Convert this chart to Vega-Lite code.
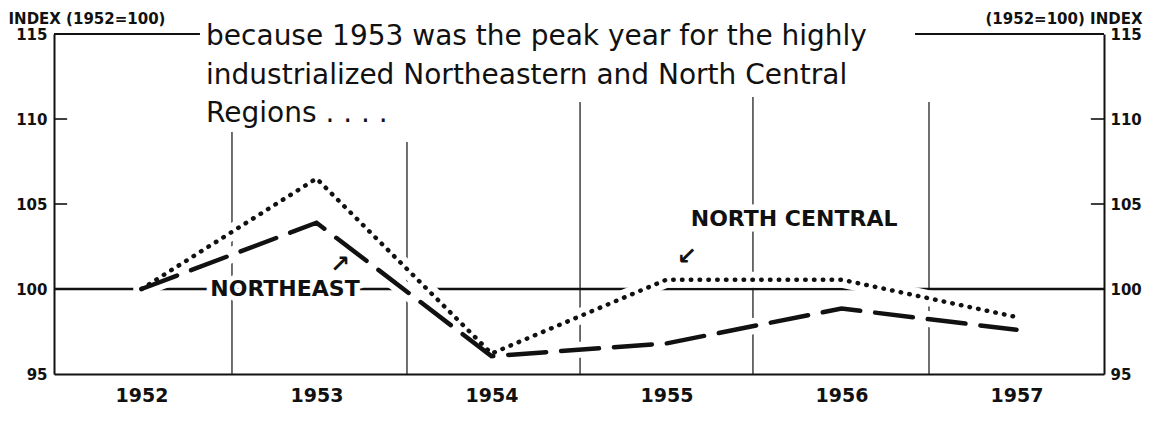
{
  "$schema": "https://vega.github.io/schema/vega-lite/v6.json",
  "width": 1050,
  "height": 340,
  "autosize": {"type": "none"},
  "padding": {"left": 54, "top": 34, "right": 53, "bottom": 51},
  "background": "white",
  "config": {
    "view": {"stroke": null},
    "axis": {
      "labelFont": "DejaVu Sans",
      "labelFontWeight": "bold",
      "labelColor": "#111",
      "domainColor": "#111",
      "tickColor": "#111",
      "titleFont": "DejaVu Sans",
      "titleFontWeight": "bold",
      "titleColor": "#111",
      "grid": false
    }
  },
  "datasets": {
    "series": [
      {"year": 1952, "region": "North Central", "index": 100},
      {"year": 1953, "region": "North Central", "index": 106.5},
      {"year": 1954, "region": "North Central", "index": 96.2},
      {"year": 1955, "region": "North Central", "index": 100.55},
      {"year": 1956, "region": "North Central", "index": 100.55},
      {"year": 1957, "region": "North Central", "index": 98.35},
      {"year": 1952, "region": "Northeast", "index": 100},
      {"year": 1953, "region": "Northeast", "index": 103.9},
      {"year": 1954, "region": "Northeast", "index": 96.05},
      {"year": 1955, "region": "Northeast", "index": 96.8},
      {"year": 1956, "region": "Northeast", "index": 98.85},
      {"year": 1957, "region": "Northeast", "index": 97.6}
    ],
    "grid": [
      {"x": 1952.517, "top": 109.24},
      {"x": 1953.517, "top": 108.65},
      {"x": 1954.506, "top": 111.0},
      {"x": 1955.494, "top": 111.3},
      {"x": 1956.5, "top": 111.0}
    ],
    "tickvals": [
      {"value": 105, "side": "left"},
      {"value": 110, "side": "left"},
      {"value": 105, "side": "right"},
      {"value": 110, "side": "right"}
    ],
    "border": [
      {"x": 1951.5, "x2": 1952.334, "y": 115},
      {"x": 1956.42, "x2": 1957.5, "y": 115}
    ],
    "base": [
      {"x": 1951.5, "x2": 1957.5, "y": 100}
    ],
    "title": [
      {"x": 1952.369, "y": 114.35, "text": "because 1953 was the peak year for the highly"},
      {"x": 1952.369, "y": 112.06, "text": "industrialized Northeastern and North Central"},
      {"x": 1952.369, "y": 109.82, "text": "Regions . . . ."}
    ],
    "labels": [
      {"x": 1952.82, "y": 100, "text": "NORTHEAST"},
      {"x": 1955.729, "y": 104.09, "text": "NORTH CENTRAL"}
    ],
    "arrows": [
      {"x": 1953.134, "y": 101.41, "text": "↗"},
      {"x": 1955.117, "y": 101.88, "text": "↙"}
    ]
  },
  "layer": [
    {
      "data": {"name": "grid"},
      "mark": {"type": "rule", "color": "#222", "strokeWidth": 1.3},
      "encoding": {
        "x": {
          "field": "x", "type": "quantitative",
          "scale": {"domain": [1951.5, 1957.5], "nice": false, "zero": false},
          "axis": {
            "values": [1952, 1953, 1954, 1955, 1956, 1957],
            "format": "d", "title": null, "ticks": false, "domain": true,
            "domainWidth": 2, "labelFontSize": 19, "labelPadding": 12, "labelFlush": false
          }
        },
        "y": {
          "field": "top", "type": "quantitative",
          "scale": {"domain": [95, 115], "nice": false, "zero": false},
          "axis": {
            "orient": "left", "values": [95, 100, 105, 110, 115],
            "title": "INDEX (1952=100)", "titleAngle": 0, "titleAlign": "left",
            "titleBaseline": "alphabetic", "titleX": -46, "titleY": -11, "titleFontSize": 15,
            "labelFontSize": 15, "ticks": false, "labelPadding": 7,
            "domainWidth": 2, "labelFlush": false
          }
        },
        "y2": {"datum": 95}
      }
    },
    {
      "data": {"name": "tickvals"},
      "transform": [{"filter": "datum.side === 'left'"}],
      "mark": {"type": "rule", "color": "#111", "strokeWidth": 1.6},
      "encoding": {
        "x": {"datum": 1951.5, "type": "quantitative", "scale": {"domain": [1951.5, 1957.5], "nice": false, "zero": false}, "axis": null},
        "x2": {"datum": 1951.575},
        "y": {"field": "value", "type": "quantitative", "scale": {"domain": [95, 115], "nice": false, "zero": false}, "axis": null}
      }
    },
    {
      "data": {"name": "tickvals"},
      "transform": [{"filter": "datum.side === 'right'"}],
      "mark": {"type": "rule", "color": "#111", "strokeWidth": 1.6},
      "encoding": {
        "x": {"datum": 1957.425, "type": "quantitative", "scale": {"domain": [1951.5, 1957.5], "nice": false, "zero": false}, "axis": null},
        "x2": {"datum": 1957.5},
        "y": {"field": "value", "type": "quantitative", "scale": {"domain": [95, 115], "nice": false, "zero": false}, "axis": null}
      }
    },
    {
      "data": {"name": "base"},
      "mark": {"type": "rule", "color": "#111", "strokeWidth": 2.6},
      "encoding": {
        "x": {"field": "x", "type": "quantitative", "scale": {"domain": [1951.5, 1957.5], "nice": false, "zero": false}, "axis": null},
        "x2": {"field": "x2"},
        "y": {"field": "y", "type": "quantitative", "scale": {"domain": [95, 115], "nice": false, "zero": false}, "axis": null}
      }
    },
    {
      "data": {"name": "border"},
      "mark": {"type": "rule", "color": "#111", "strokeWidth": 1.8},
      "encoding": {
        "x": {"field": "x", "type": "quantitative", "scale": {"domain": [1951.5, 1957.5], "nice": false, "zero": false}, "axis": null},
        "x2": {"field": "x2"},
        "y": {
          "field": "y", "type": "quantitative",
          "scale": {"domain": [95, 115], "nice": false, "zero": false},
          "axis": {
            "orient": "right", "values": [95, 100, 105, 110, 115],
            "title": "(1952=100) INDEX", "titleAngle": 0, "titleAlign": "left",
            "titleBaseline": "alphabetic", "titleX": -119, "titleY": -11, "titleFontSize": 15,
            "labelFontSize": 15, "ticks": false, "labelPadding": 6,
            "domainWidth": 2, "labelFlush": false
          }
        }
      }
    },
    {
      "data": {"name": "series"},
      "mark": {"type": "line", "color": "white", "strokeWidth": 16, "strokeCap": "round", "strokeJoin": "round"},
      "encoding": {
        "x": {"field": "year", "type": "quantitative", "scale": {"domain": [1951.5, 1957.5], "nice": false, "zero": false}, "axis": null},
        "y": {"field": "index", "type": "quantitative", "scale": {"domain": [95, 115], "nice": false, "zero": false}, "axis": null},
        "detail": {"field": "region"}
      }
    },
    {
      "data": {"name": "title"},
      "mark": {"type": "text", "font": "DejaVu Sans", "fontSize": 28, "align": "left", "baseline": "alphabetic", "fill": "white", "stroke": "white", "strokeWidth": 12, "strokeJoin": "round"},
      "encoding": {
        "x": {"field": "x", "type": "quantitative", "scale": {"domain": [1951.5, 1957.5], "nice": false, "zero": false}, "axis": null},
        "y": {"field": "y", "type": "quantitative", "scale": {"domain": [95, 115], "nice": false, "zero": false}, "axis": null},
        "text": {"field": "text"}
      }
    },
    {
      "data": {"name": "labels"},
      "mark": {"type": "text", "font": "DejaVu Sans", "fontWeight": "bold", "fontSize": 22, "align": "center", "baseline": "middle", "fill": "white", "stroke": "white", "strokeWidth": 11, "strokeJoin": "round"},
      "encoding": {
        "x": {"field": "x", "type": "quantitative", "scale": {"domain": [1951.5, 1957.5], "nice": false, "zero": false}, "axis": null},
        "y": {"field": "y", "type": "quantitative", "scale": {"domain": [95, 115], "nice": false, "zero": false}, "axis": null},
        "text": {"field": "text"}
      }
    },
    {
      "data": {"name": "series"},
      "transform": [{"filter": "datum.region === 'North Central'"}],
      "mark": {"type": "line", "color": "#111", "strokeWidth": 4.5, "strokeCap": "round", "strokeDash": [0.5, 8.3]},
      "encoding": {
        "x": {"field": "year", "type": "quantitative", "scale": {"domain": [1951.5, 1957.5], "nice": false, "zero": false}, "axis": null},
        "y": {"field": "index", "type": "quantitative", "scale": {"domain": [95, 115], "nice": false, "zero": false}, "axis": null}
      }
    },
    {
      "data": {"name": "series"},
      "transform": [{"filter": "datum.region === 'Northeast'"}],
      "mark": {"type": "line", "color": "#111", "strokeWidth": 4.5, "strokeCap": "round", "strokeDash": [38, 15]},
      "encoding": {
        "x": {"field": "year", "type": "quantitative", "scale": {"domain": [1951.5, 1957.5], "nice": false, "zero": false}, "axis": null},
        "y": {"field": "index", "type": "quantitative", "scale": {"domain": [95, 115], "nice": false, "zero": false}, "axis": null}
      }
    },
    {
      "data": {"name": "title"},
      "mark": {"type": "text", "font": "DejaVu Sans", "fontSize": 28, "align": "left", "baseline": "alphabetic", "fill": "#111"},
      "encoding": {
        "x": {"field": "x", "type": "quantitative", "scale": {"domain": [1951.5, 1957.5], "nice": false, "zero": false}, "axis": null},
        "y": {"field": "y", "type": "quantitative", "scale": {"domain": [95, 115], "nice": false, "zero": false}, "axis": null},
        "text": {"field": "text"}
      }
    },
    {
      "data": {"name": "labels"},
      "mark": {"type": "text", "font": "DejaVu Sans", "fontWeight": "bold", "fontSize": 22, "align": "center", "baseline": "middle", "fill": "#111"},
      "encoding": {
        "x": {"field": "x", "type": "quantitative", "scale": {"domain": [1951.5, 1957.5], "nice": false, "zero": false}, "axis": null},
        "y": {"field": "y", "type": "quantitative", "scale": {"domain": [95, 115], "nice": false, "zero": false}, "axis": null},
        "text": {"field": "text"}
      }
    },
    {
      "data": {"name": "arrows"},
      "mark": {"type": "text", "font": "DejaVu Sans", "fontWeight": "bold", "fontSize": 24, "align": "center", "baseline": "middle", "fill": "#111"},
      "encoding": {
        "x": {"field": "x", "type": "quantitative", "scale": {"domain": [1951.5, 1957.5], "nice": false, "zero": false}, "axis": null},
        "y": {"field": "y", "type": "quantitative", "scale": {"domain": [95, 115], "nice": false, "zero": false}, "axis": null},
        "text": {"field": "text"}
      }
    }
  ],
  "resolve": {"axis": {"x": "independent", "y": "independent"}}
}
